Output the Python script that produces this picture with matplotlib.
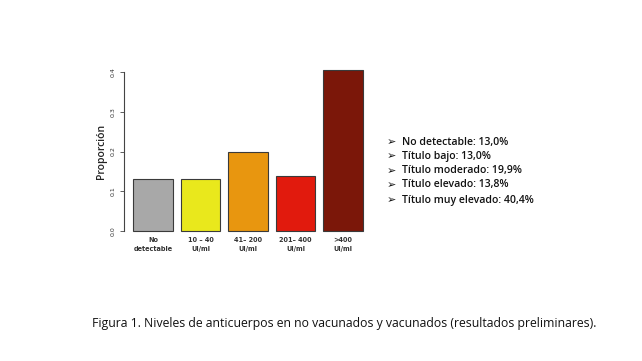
import matplotlib.pyplot as plt
import numpy as np

# data
categories = ['No\ndetectable', '10 – 40\nUI/ml', '41– 200\nUI/ml', '201– 400\nUI/ml', '>400\nUI/ml']
proporcion = [0.130, 0.130, 0.199, 0.138, 0.404]
colores = ['#a8a8a8', '#e9e81c', '#e8960f', '#e11a0d', '#7b1709']
leyenda = ['No detectable: 13,0%', 'Título bajo: 13,0%', 'Título moderado: 19,9%',
           'Título elevado: 13,8%', 'Título muy elevado: 40,4%']
caption = 'Figura 1. Niveles de anticuerpos en no vacunados y vacunados (resultados preliminares).'

W, H = 642, 361
fig = plt.figure(figsize=(W / 100, H / 100), dpi=100)

# axes placed in pixels
ax = fig.add_axes([124 / W, 1 - 231 / H, (372 - 124) / W, (231 - 72) / H])
x = np.arange(len(proporcion))
ax.bar(x, proporcion, width=0.833, color=colores, edgecolor='#3a3a3a', linewidth=0.8, clip_on=False)
ax.set_xlim(-0.61, 4.61)
ax.set_ylim(0, 0.4)

for s in ['top', 'right', 'bottom']:
    ax.spines[s].set_visible(False)
ax.spines['left'].set_color('#444444')
ax.spines['left'].set_linewidth(0.8)

ax.set_yticks([0.0, 0.1, 0.2, 0.3, 0.4])
ax.set_yticklabels(['0.0', '0.1', '0.2', '0.3', '0.4'], rotation=90, va='center', fontsize=4.5, color='#333333')
ax.tick_params(axis='y', length=3, width=0.6, color='#444444', pad=3)

ax.set_xticks(x)
ax.set_xticklabels(categories, fontsize=4.7, fontweight='bold', color='#333333', linespacing=1.6)
ax.tick_params(axis='x', length=0, pad=4)

ax.set_ylabel('Proporción', fontsize=7.5, fontweight='semibold', color='#222222',
              family='Open Sans', labelpad=3)

# legend-like text on the right
ys = [142, 156, 171, 185, 200]
for y, t in zip(ys, leyenda):
    fig.text(387 / W, 1 - y / H, '➢', fontsize=8, family='DejaVu Sans', va='center', color='#111111')
    fig.text(402 / W, 1 - y / H, t, fontsize=7.6, family='Open Sans', fontweight='semibold',
             va='center', color='#111111')

fig.text(344 / W, 1 - 324 / H, caption, fontsize=8.85, family='Open Sans', ha='center', va='center', color='#111111')

fig.savefig('out.png', dpi=100, facecolor='white')
